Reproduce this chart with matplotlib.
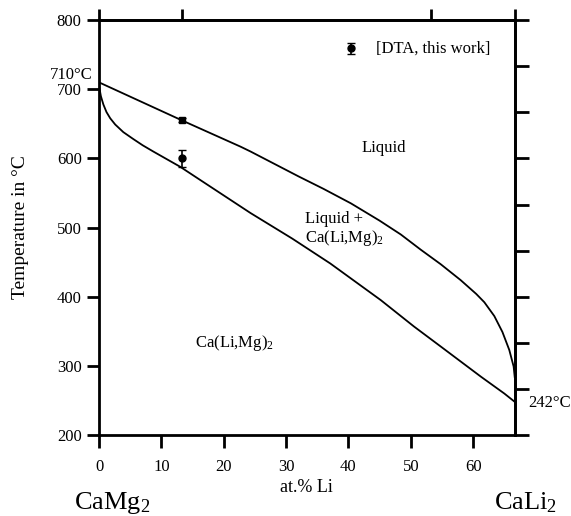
import numpy as np
import matplotlib
matplotlib.use("Agg")
import matplotlib.pyplot as plt

# liquidus and solidus (at.% Li, deg C)
liq_x = [0, 13.3, 22.7, 24.3, 32.0, 36.0, 40.4, 45.0, 48.4, 51.6, 54.8, 58.0, 60.5, 61.8, 63.4, 64.7, 65.8, 66.5, 66.67]
liq_t = [710, 655, 617, 610, 574, 556, 535, 510, 490, 468, 447, 424, 404, 392, 372, 349, 323, 299, 284]
sol_x = [0, 0.3, 0.7, 1.2, 1.8, 2.6, 3.9, 5.5, 7.0, 8.7, 13.0, 16.2, 24.3, 31.0, 37.1, 45.2, 50.5, 54.8, 61.3, 65.0, 66.67]
sol_t = [705, 690, 678, 667, 658, 649, 638, 628, 619, 610, 588, 569, 521, 484, 448, 395, 357, 328, 284, 260, 248]

# DTA points
dta_x = [13.3, 13.3]
dta_t = [655, 600]
dta_err = [3, 12]

right_ticks = np.linspace(200, 800, 10)
top_ticks = [0, 13.3, 53.3, 66.67]

plt.rcParams['font.family'] = ['Liberation Serif', 'DejaVu Serif']
plt.rcParams['mathtext.fontset'] = 'custom'
plt.rcParams['mathtext.rm'] = 'Liberation Serif'
plt.rcParams['mathtext.it'] = 'Liberation Serif:italic'

fig = plt.figure(figsize=(5.71, 5.16), dpi=100)
ax = fig.add_axes([0.1734, 0.157, 0.728, 0.804])

ax.plot(liq_x, liq_t, color='black', lw=1.3)
ax.plot(sol_x, sol_t, color='black', lw=1.3)
ax.errorbar(dta_x, dta_t, yerr=dta_err, fmt='none', ecolor='black', elinewidth=1.2, capsize=3)
ax.plot(dta_x[0], dta_t[0], 's', color='black', ms=5)
ax.plot(dta_x[1], dta_t[1], 'o', color='black', ms=5)

# legend entry
ax.errorbar([40.35], [759], yerr=[8], fmt='o', color='black', ms=5, elinewidth=1.2, capsize=3)
ax.text(44.4, 759, "[DTA, this work]", fontsize=12, va='center', ha='left')

ax.set_xlim(0, 66.67)
ax.set_ylim(200, 800)
for s in ax.spines.values():
    s.set_linewidth(2)

ax.set_xticks([0, 10, 20, 30, 40, 50, 60])
ax.set_yticks([200, 300, 400, 500, 600, 700, 800])
ax.tick_params(axis='both', direction='out', width=2, length=9, labelsize=12)
ax.tick_params(axis='x', pad=8)

top = ax.secondary_xaxis('top')
top.set_xticks(top_ticks)
top.set_xticklabels([])
top.tick_params(direction='out', width=2, length=8)
top.spines['top'].set_linewidth(2)

right = ax.secondary_yaxis('right')
right.set_yticks(right_ticks)
right.set_yticklabels([])
right.tick_params(direction='out', width=2, length=10)
right.spines['right'].set_linewidth(2)

ax.set_ylabel("Temperature in °C", fontsize=14, labelpad=20)

ax.text(-1.0, 721, "710°C", fontsize=12, ha='right', va='center')
ax.text(68.8, 246, "242°C", fontsize=12, ha='left', va='center')
ax.text(45.7, 615, "Liquid", fontsize=12, ha='center', va='center')
ax.text(33.1, 497, "Liquid +\nCa(Li,Mg)$_2$", fontsize=12, ha='left', va='center', linespacing=1.1)
ax.text(15.4, 333, "Ca(Li,Mg)$_2$", fontsize=12, ha='left', va='center')

fig.text(0.536, 0.056, "at.% Li", fontsize=13, ha='center', va='center')
fig.text(0.197, 0.025, "CaMg$_2$", fontsize=19, ha='center', va='center')
fig.text(0.921, 0.025, "CaLi$_2$", fontsize=19, ha='center', va='center')

fig.savefig("out.png", dpi=100)
